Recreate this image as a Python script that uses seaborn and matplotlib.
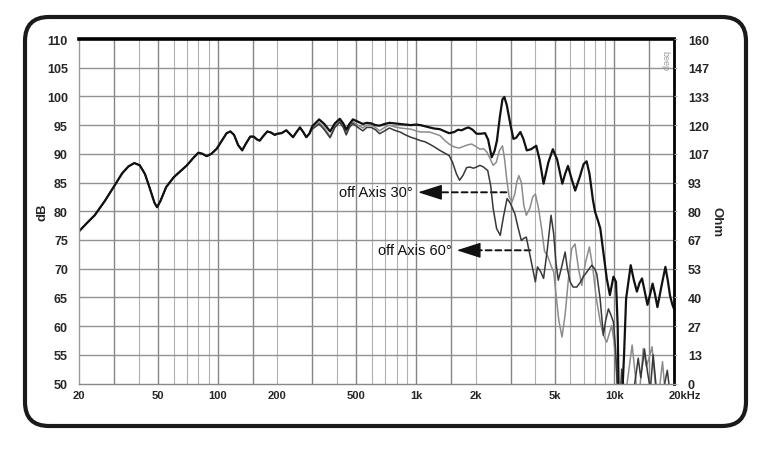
import numpy as np
import pandas as pd
import matplotlib
matplotlib.use("Agg")
import matplotlib.pyplot as plt
import matplotlib.transforms as mtransforms
from matplotlib.patches import FancyBboxPatch
import seaborn as sns

# ---------------- data ----------------
common_freq = [20, 22, 24, 27, 30, 33, 35.5, 38, 40.5, 43, 45.5, 48, 49.5, 51.5, 55, 60, 65, 70,
               75, 80, 84, 88, 93, 99, 105, 111, 116, 121, 127, 133, 139, 146, 152, 158, 163,
               170, 178, 186, 194, 200, 210, 222, 231, 240, 250, 260, 270, 280, 290]
common_db = [76.5, 78.0, 79.3, 81.8, 84.3, 86.6, 87.8, 88.4, 88.0, 86.5, 84.0, 81.5, 80.7, 81.8,
             84.2, 85.9, 87.0, 88.0, 89.2, 90.2, 90.0, 89.6, 90.0, 90.9, 92.3, 93.6, 93.9, 93.3,
             91.5, 90.6, 91.8, 93.0, 93.0, 92.5, 92.3, 93.1, 93.9, 93.7, 93.3, 93.5, 93.6, 94.1,
             93.5, 92.9, 93.8, 94.6, 93.8, 92.9, 93.5]

on_freq = [300, 325, 345, 369, 390, 413, 430, 445, 462, 481, 510, 540, 565, 595, 625, 655, 695,
           735, 780, 832, 885, 940, 1000, 1054, 1110, 1170, 1240, 1319, 1400, 1470, 1560, 1630,
           1700, 1770, 1840, 1930, 2020, 2120, 2230, 2310, 2410, 2490, 2560, 2650, 2730, 2790,
           2870, 2990, 3100, 3200, 3360, 3480, 3620, 3800, 4040, 4200, 4400, 4650, 4900, 5150,
           5470, 5650, 5840, 6050, 6350, 6700, 7000, 7250, 7500, 7800, 8000, 8250, 8500, 8800,
           9160, 9500, 9700, 9900, 10200, 10400, 10550, 10900, 11200, 11470, 12100, 12550,
           13000, 13400, 13800, 14250, 14700, 15150, 15600, 16050, 16500, 17300, 18100, 18600,
           19100, 19600, 20000]
on_db = [94.8, 96.0, 95.2, 93.9, 95.3, 96.1, 95.3, 94.2, 95.2, 96.0, 95.6, 95.2, 95.4, 95.3,
         95.0, 94.9, 95.2, 95.4, 95.3, 95.2, 95.1, 95.0, 95.1, 95.0, 94.8, 94.6, 94.4, 94.3,
         93.9, 93.6, 93.8, 94.2, 94.1, 94.4, 94.6, 94.2, 93.5, 93.5, 93.6, 92.5, 89.4, 90.5,
         92.3, 96.5, 99.5, 99.9, 98.5, 95.2, 92.6, 92.8, 93.8, 92.6, 90.6, 90.8, 91.4, 89.0,
         84.8, 88.5, 90.8, 89.0, 84.8, 86.5, 87.9, 86.0, 83.6, 86.0, 88.2, 88.7, 86.5, 82.0,
         79.9, 78.5, 77.0, 73.0, 68.3, 65.4, 67.0, 68.6, 67.7, 60.0, 45.0, 46.0, 55.0, 64.8,
         70.6, 68.0, 66.0, 67.5, 68.3, 66.0, 63.7, 65.5, 67.4, 65.5, 63.3, 67.0, 70.3, 68.0,
         65.3, 63.8, 63.0]

off30_freq = [300, 325, 345, 369, 390, 413, 430, 445, 462, 481, 510, 540, 565, 595, 625, 655,
              695, 735, 780, 832, 885, 940, 1000, 1054, 1110, 1170, 1240, 1319, 1400, 1470,
              1560, 1650, 1768, 1840, 1910, 2020, 2100, 2190, 2280, 2370, 2450, 2540, 2630,
              2730, 2800, 2870, 2950, 3050, 3150, 3220, 3300, 3400, 3500, 3600, 3750, 3880,
              4000, 4150, 4300, 4450, 4600, 4800, 4950, 5100, 5250, 5450, 5650, 5900, 6100,
              6340, 6600, 6860, 7150, 7490, 7800, 8100, 8500, 8800, 9160, 9450, 9700, 9950,
              10200, 10450, 10800, 11400, 11900, 12300, 12800, 13200, 13600, 14000, 14500,
              15000, 15500, 16000, 16500, 17000, 17500, 18100, 18700, 19300, 20000]
off30_db = [94.5, 95.5, 94.6, 93.0, 94.8, 95.8, 95.0, 93.6, 94.8, 95.6, 95.0, 94.5, 95.0, 95.0,
            94.6, 94.0, 94.6, 95.0, 94.7, 94.5, 94.4, 94.3, 94.0, 93.8, 93.8, 93.8, 93.5, 93.2,
            92.3, 91.7, 91.2, 91.0, 91.4, 91.6, 91.7, 91.2, 90.8, 90.9, 90.3, 89.1, 88.0, 88.5,
            90.5, 91.4, 89.0, 85.5, 82.5, 81.6, 83.0, 85.0, 86.2, 85.0, 81.0, 79.3, 80.5, 82.5,
            83.0, 80.5, 77.0, 73.0, 72.3, 70.5, 69.4, 65.0, 61.0, 58.1, 62.0, 69.0, 73.5, 74.3,
            70.0, 67.1, 71.0, 73.8, 70.0, 65.0, 60.7, 58.5, 57.2, 58.8, 60.1, 57.5, 53.8, 47.0,
            45.0, 48.0, 53.0, 56.7, 51.0, 46.0, 51.0, 56.1, 53.0, 54.5, 56.4, 51.0, 46.0, 50.0,
            53.8, 48.0, 46.0, 48.0, 45.0]

off60_freq = [300, 325, 345, 369, 390, 413, 430, 445, 462, 481, 510, 540, 565, 595, 625, 655,
              695, 735, 780, 832, 885, 940, 1000, 1054, 1110, 1170, 1240, 1319, 1400, 1470,
              1530, 1600, 1660, 1730, 1800, 1870, 1950, 2020, 2100, 2190, 2300, 2380, 2450,
              2550, 2660, 2760, 2880, 2980, 3150, 3280, 3400, 3500, 3600, 3750, 3900, 4000,
              4100, 4250, 4400, 4600, 4800, 4950, 5080, 5220, 5400, 5650, 5800, 5990, 6200,
              6470, 6700, 6980, 7300, 7700, 7950, 8160, 8480, 8810, 9050, 9340, 9600, 9900,
              10150, 10400, 10650, 10900, 11200, 11600, 12300, 12800, 13200, 13600, 14200,
              14700, 15200, 15700, 16200, 16700, 17500, 18500, 19000, 19500, 20000]
off60_db = [94.3, 95.2, 94.2, 92.8, 94.6, 95.5, 94.6, 93.3, 94.6, 95.3, 94.6, 94.0, 94.6, 94.6,
            94.2, 93.5, 94.0, 94.5, 94.1, 93.8, 93.3, 92.9, 92.6, 92.3, 92.1, 91.7, 91.2, 90.6,
            90.1, 89.7, 88.5, 86.5, 85.4, 86.3, 87.6, 87.7, 87.5, 87.7, 88.0, 87.7, 87.1, 84.5,
            80.5, 77.0, 75.8, 79.0, 82.2, 81.5, 79.6, 77.0, 74.9, 75.3, 75.5, 72.5, 69.7, 67.7,
            70.3, 69.5, 68.3, 73.5, 79.3, 76.0, 71.0, 68.0, 70.0, 72.9, 70.0, 67.7, 66.8, 66.8,
            67.5, 68.6, 69.5, 70.6, 70.0, 69.1, 64.8, 58.4, 61.0, 63.0, 62.0, 60.7, 56.0, 48.0,
            46.0, 52.5, 49.0, 46.0, 47.0, 51.0, 54.4, 51.0, 56.0, 52.0, 49.0, 55.0, 50.0, 46.5,
            48.0, 52.3, 49.0, 46.0, 45.0]

db_ticks = [50, 55, 60, 65, 70, 75, 80, 85, 90, 95, 100, 105, 110]
db_labels = ["50", "55", "60", "65", "70", "75", "80", "85", "90", "95", "100", "105", "110"]
ohm_labels = ["0", "13", "27", "40", "53", "67", "80", "93", "107", "120", "133", "147", "160"]
freq_ticks = [20, 50, 100, 200, 500, 1000, 2000, 5000, 10000, 20000]
freq_labels = ["20", "50", "100", "200", "500", "1k", "2k", "5k", "10k", "20kHz"]
grid_dark = [30, 50, 100, 150, 300, 500, 1000, 1500, 3000, 5000, 10000, 15000]
grid_light = [40, 60, 70, 80, 90, 200, 400, 600, 700, 800, 900, 2000, 4000, 6000, 7000,
              8000, 9000]

# ---------------- figure ----------------
sns.set_style("white")
plt.rcParams["font.family"] = ["Liberation Sans", "DejaVu Sans"]

W, H = 757, 452
fig = plt.figure(figsize=(W / 100, H / 100), dpi=100)
ax = fig.add_axes([79 / W, 1 - 384.5 / H, (674 - 79) / W, (384.5 - 40) / H])
ax.set_xscale("log")
ax.set_xlim(20, 20000)
ax.set_ylim(50, 110)

for f in grid_dark:
    ax.axvline(f, color="#858585", lw=1.0, zorder=1)
for f in grid_light:
    ax.axvline(f, color="#b0b0b0", lw=0.8, zorder=1)
for d in db_ticks[1:-1]:
    ax.axhline(d, color="#929292", lw=1.0, zorder=1)

def make_df(fr, db):
    return pd.DataFrame({"freq": list(common_freq) + list(fr), "dB": list(common_db) + list(db)})

line_kw = dict(estimator=None, sort=False, solid_joinstyle="round", solid_capstyle="round")
sns.lineplot(data=make_df(off30_freq, off30_db), x="freq", y="dB", ax=ax, color="#8c8c8c",
             lw=1.1, zorder=3, **line_kw)
sns.lineplot(data=make_df(off60_freq, off60_db), x="freq", y="dB", ax=ax, color="#383838",
             lw=1.1, zorder=4, **line_kw)
sns.lineplot(data=make_df(on_freq, on_db), x="freq", y="dB", ax=ax, color="#111111",
             lw=1.6, zorder=5, **line_kw)

ax.set_xlabel("")
ax.set_ylabel("")
ax.set_xticks(freq_ticks)
ax.set_xticklabels(freq_labels, fontsize=8, fontweight="bold")
ax.xaxis.set_minor_locator(matplotlib.ticker.NullLocator())
ax.tick_params(axis="x", length=0, pad=5)
last = ax.get_xticklabels()[-1]
last.set_horizontalalignment("left")
last.set_transform(last.get_transform() + mtransforms.ScaledTranslation(-5 / 100, 0, fig.dpi_scale_trans))

ax.set_yticks(db_ticks)
ax.set_yticklabels(db_labels, fontsize=9, fontweight="bold")
ax.tick_params(axis="y", length=0, pad=8)

for side, col, lw in [("top", "#000000", 2.6), ("right", "#000000", 2.0),
                      ("left", "#9a9a9a", 1.0), ("bottom", "#888888", 1.0)]:
    ax.spines[side].set_color(col)
    ax.spines[side].set_linewidth(lw)
    ax.spines[side].set_zorder(6)

ax2 = ax.twinx()
ax2.set_ylim(50, 110)
ax2.set_yticks(db_ticks)
ax2.set_yticklabels(ohm_labels, fontsize=9, fontweight="bold")
ax2.tick_params(axis="y", length=2, color="#aaaaaa", pad=8)
for s in ax2.spines.values():
    s.set_visible(False)

# annotations
ax.text(967, 83.3, "off Axis 30°", ha="right", va="center", fontsize=10.5, color="#111111")
ax.annotate("", xy=(1248, 83.3), xytext=(2950, 83.3),
            arrowprops=dict(arrowstyle="-", linestyle=(0, (3, 2)), lw=1.4, color="#111111"))
ax.annotate("", xy=(1025, 83.3), xytext=(1260, 83.3),
            arrowprops=dict(arrowstyle="-|>,head_length=0.75,head_width=0.24", lw=1,
                            color="#111111", mutation_scale=20, shrinkA=0, shrinkB=0))
ax.text(1520, 73.2, "off Axis 60°", ha="right", va="center", fontsize=10.5, color="#111111")
ax.annotate("", xy=(1940, 73.2), xytext=(3900, 73.2),
            arrowprops=dict(arrowstyle="-", linestyle=(0, (3, 2)), lw=1.4, color="#111111"))
ax.annotate("", xy=(1606, 73.2), xytext=(1960, 73.2),
            arrowprops=dict(arrowstyle="-|>,head_length=0.75,head_width=0.24", lw=1,
                            color="#111111", mutation_scale=20, shrinkA=0, shrinkB=0))
ax.text(18000, 106.3, "beep", rotation=270, ha="center", va="center", fontsize=6.5,
        color="#9a9a9a", zorder=7)

fig.text(42 / W, 1 - 212 / H, "dB", rotation=90, ha="center", va="center", fontsize=9.5,
         fontweight="bold")
fig.text(716 / W, 1 - 222 / H, "Ohm", rotation=270, ha="center", va="center", fontsize=9.5,
         fontweight="bold")

box = FancyBboxPatch((0.25, 0.25), 7.21, 4.09, boxstyle="round,pad=0,rounding_size=0.24",
                     transform=fig.dpi_scale_trans, fill=False, lw=3.0, edgecolor="#1a1a1a")
fig.patches.append(box)

fig.savefig("out.png", dpi=100)
